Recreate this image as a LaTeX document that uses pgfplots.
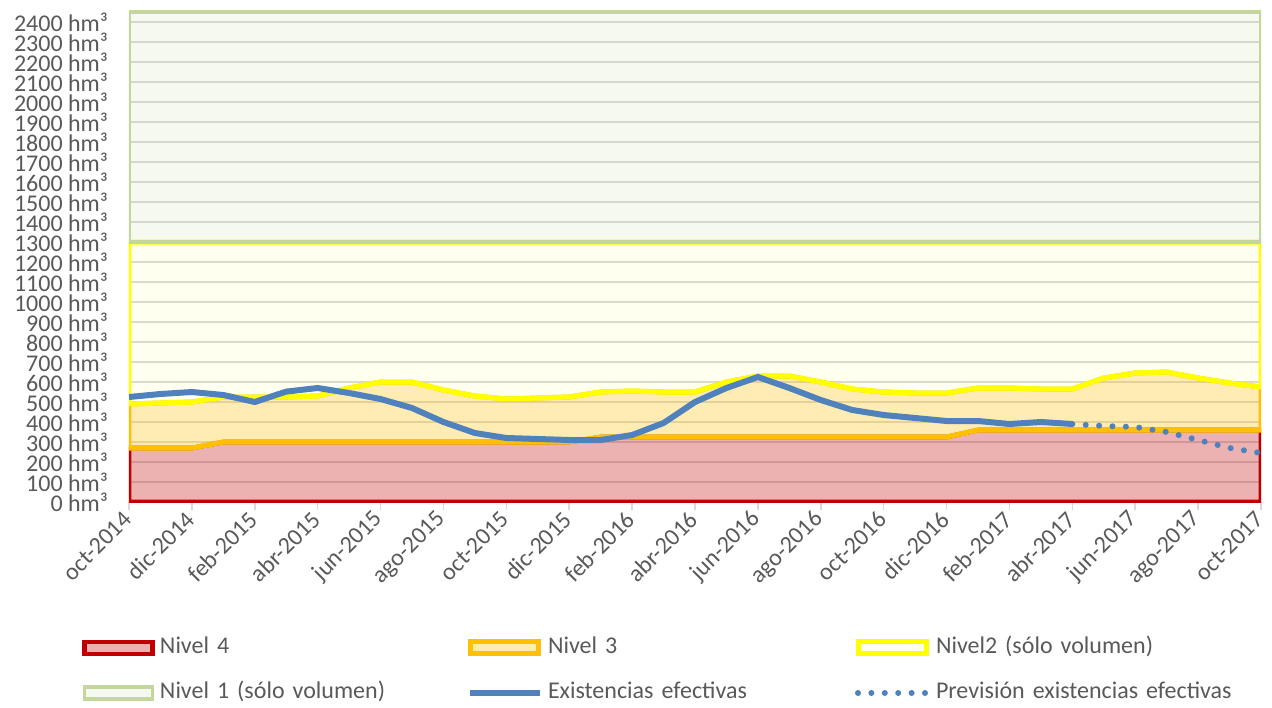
\documentclass[border=0pt]{standalone}
\usepackage{pgfplots}
\pgfplotsset{compat=1.18}
\usepackage{fontspec}
\setmainfont{Carlito}
\definecolor{txt}{HTML}{595959}
\definecolor{n4}{HTML}{C00000}
\definecolor{n3}{HTML}{FFC000}
\definecolor{n2}{HTML}{FFFF00}
\definecolor{n1}{HTML}{C3D69B}
\definecolor{blu}{HTML}{4F81BD}
\definecolor{grd}{HTML}{D9D9D9}
\pgfplotsset{
  boxkey/.style={legend image code/.code={\path[draw=none,fill=none] (0pt,0pt) -- (36.5pt,0pt);\filldraw (1.15pt,-3pt) rectangle (35.3pt,3pt);}},
  linekey/.style={legend image code/.code={\path[draw=none,fill=none] (0pt,0pt) -- (36.5pt,0pt);\draw (1pt,0pt) -- (36pt,0pt);}},
}
\begin{document}
\begin{tikzpicture}
\useasboundingbox (-64.5pt,-102.5pt) rectangle (571.5pt,251pt);
\begin{axis}[
  at={(0pt,0pt)}, anchor=south west,
  scale only axis, width=566pt, height=246pt,
  xmin=0, xmax=36, ymin=0, ymax=2460,
  axis x line*=bottom, axis y line*=left,
  axis line style={draw=none},
  xtick={0,2,...,36},
  xticklabels={oct-2014,dic-2014,feb-2015,abr-2015,jun-2015,ago-2015,oct-2015,dic-2015,feb-2016,abr-2016,jun-2016,ago-2016,oct-2016,dic-2016,feb-2017,abr-2017,jun-2017,ago-2017,oct-2017},
  ytick={0,100,...,2400},
  yticklabel={\pgfmathprintnumber[assume math mode=true,1000 sep={}]{\tick} hm³},
  ticklabel style={font=\fontsize{12}{14}\selectfont, text=txt},
  xticklabel style={rotate=45, anchor=east, xshift=1pt, yshift=-1.5pt},
  yticklabel style={anchor=east, xshift=-7pt},
  xtick align=outside,
  major tick length=4pt,
  xtick style={draw=grd, line width=0.75pt},
  ytick style={draw=none},
  ymajorgrids,
  grid style={draw=grd, line width=0.75pt},
  legend columns=3,
  legend cell align=left,
  legend style={at={(axis description cs:-0.04152,-0.2723)}, anchor=north west,
    draw=none, fill=none, inner sep=0pt, outer sep=0pt,
    column sep=0pt, row sep=10.5pt,
    /tikz/every odd column/.append style={column sep=2.5pt},
    font=\fontsize{12}{14}\selectfont, text=txt,
    nodes={inner sep=0pt, text width=153.5pt, text height=9pt, text depth=3pt}},
]
% Nivel 4
\addplot[draw=n4, line width=2.3pt, fill=n4, fill opacity=0.3, boxkey] coordinates {
(0,0) (0,270) (1,270) (2,270) (3,300) (4,300) (5,300) (6,300) (7,300) (8,300) (9,300)
(10,300) (11,300) (12,300) (13,300) (14,300) (15,325) (16,325) (17,325) (18,325) (19,325)
(20,325) (21,325) (22,325) (23,325) (24,325) (25,325) (26,325) (27,360) (28,360) (29,360)
(30,360) (31,360) (32,360) (33,360) (34,360) (35,360) (36,360) (36,0)} -- cycle;
% Nivel 3
\addplot[draw=n3, line width=2.5pt, fill=n3, fill opacity=0.3, boxkey] coordinates {
(0,490) (1,495) (2,500) (3,525) (4,525) (5,525) (6,530) (7,570) (8,600) (9,600)
(10,560) (11,530) (12,515) (13,520) (14,525) (15,550) (16,555) (17,550) (18,550) (19,600)
(20,630) (21,630) (22,600) (23,565) (24,550) (25,545) (26,545) (27,570) (28,570) (29,565)
(30,565) (31,620) (32,645) (33,650) (34,620) (35,595) (36,575)
(36,360) (35,360) (34,360) (33,360) (32,360) (31,360) (30,360) (29,360) (28,360) (27,360)
(26,325) (25,325) (24,325) (23,325) (22,325) (21,325) (20,325) (19,325) (18,325) (17,325)
(16,325) (15,325) (14,300) (13,300) (12,300) (11,300) (10,300) (9,300) (8,300) (7,300)
(6,300) (5,300) (4,300) (3,300) (2,270) (1,270) (0,270)} -- cycle;
% Nivel 2
\addplot[draw=n2, line width=2.5pt, fill=n2, fill opacity=0.06, boxkey] coordinates {
(0,490) (1,495) (2,500) (3,525) (4,525) (5,525) (6,530) (7,570) (8,600) (9,600)
(10,560) (11,530) (12,515) (13,520) (14,525) (15,550) (16,555) (17,550) (18,550) (19,600)
(20,630) (21,630) (22,600) (23,565) (24,550) (25,545) (26,545) (27,570) (28,570) (29,565)
(30,565) (31,620) (32,645) (33,650) (34,620) (35,595) (36,575)
(36,1300) (0,1300)} -- cycle;
% Nivel 1
\addplot[draw=n1, line width=1.6pt, fill=n1, fill opacity=0.15, boxkey] coordinates {
(0,1300) (36,1300) (36,2450) (0,2450)} -- cycle;
% Existencias efectivas
\addplot[blu, line width=3pt, line join=round, linekey] coordinates {
(0,525) (1,540) (2,550) (3,535) (4,500) (5,552) (6,570) (7,545) (8,515) (9,470)
(10,400) (11,345) (12,320) (13,315) (14,310) (15,310) (16,335) (17,395) (18,500) (19,570)
(20,625) (21,570) (22,510) (23,460) (24,435) (25,420) (26,405) (27,405) (28,390) (29,400)
(30,390)};
% Prevision
\addplot[blu, line width=3pt, line cap=round, dash pattern=on 0pt off 6.7pt, linekey] coordinates {
(30,390) (31,380) (32,375) (33,350) (34,310) (35,270) (36,245)};
\legend{Nivel 4, Nivel 3, Nivel2 (sólo volumen), Nivel 1 (sólo volumen), Existencias efectivas, Previsión existencias efectivas}
\end{axis}
\end{tikzpicture}
\end{document}
